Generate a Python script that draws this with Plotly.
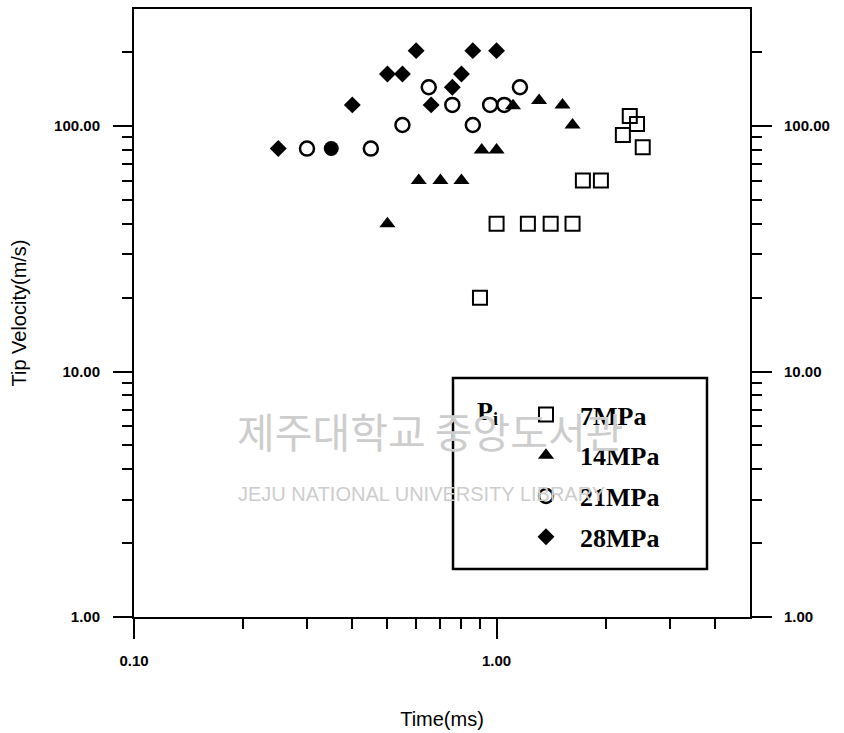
import plotly.graph_objects as go

# ---- data (Time in ms, Tip velocity in m/s) ----
t_7 = [0.90, 1.00, 1.22, 1.41, 1.62, 1.73, 1.94, 2.23, 2.33, 2.44, 2.53]
v_7 = [20, 40, 40, 40, 40, 60, 60, 92, 110, 102, 82]

t_14 = [0.50, 0.61, 0.70, 0.80, 0.91, 1.00, 1.11, 1.31, 1.52, 1.62]
v_14 = [40, 60, 60, 60, 80, 80, 121, 127, 122, 101]

t_21 = [0.30, 0.45, 0.55, 0.65, 0.755, 0.86, 0.96, 1.05, 1.16]
v_21 = [81, 81, 101, 144, 122, 101, 122, 122, 144]

t_28 = [0.25, 0.40, 0.50, 0.55, 0.60, 0.66, 0.755, 0.80, 0.86, 1.00]
v_28 = [81, 122, 163, 163, 203, 122, 144, 163, 203, 203]

t_dot = [0.35]
v_dot = [81]

x_major = [0.1, 1.0]
x_major_text = ["0.10", "1.00"]
x_minor = [0.2, 0.3, 0.4, 0.5, 0.6, 0.7, 0.8, 0.9, 2, 3, 4]
y_major = [1, 10, 100]
y_major_text = ["1.00", "10.00", "100.00"]
y_minor = [2, 3, 4, 5, 6, 7, 8, 9, 20, 30, 40, 50, 60, 70, 80, 90, 200]

fig = go.Figure()

fig.add_trace(go.Scatter(x=t_7, y=v_7, mode="markers", name="7MPa", legendgroup="a",
                         marker=dict(symbol="square-open", size=14, color="black",
                                     line=dict(width=2, color="black"))))
fig.add_trace(go.Scatter(x=t_14, y=v_14, mode="markers", name="14MPa", legendgroup="b",
                         marker=dict(symbol="triangle-up", size=14, color="black")))
fig.add_trace(go.Scatter(x=t_21, y=v_21, mode="markers", name="21MPa", legendgroup="c",
                         marker=dict(symbol="circle-open", size=14, color="black",
                                     line=dict(width=2.5, color="black"))))
fig.add_trace(go.Scatter(x=t_28, y=v_28, mode="markers", name="28MPa", legendgroup="d",
                         marker=dict(symbol="diamond", size=13, color="black")))
fig.add_trace(go.Scatter(x=t_dot, y=v_dot, mode="markers", showlegend=False,
                         marker=dict(symbol="circle", size=15, color="black")))
# carrier for right axis
fig.add_trace(go.Scatter(x=[None], y=[None], yaxis="y2", showlegend=False, hoverinfo="skip"))

axis_font = dict(family="Liberation Sans", size=15, color="black", weight="bold")

fig.update_layout(
    width=844, height=733,
    margin=dict(l=134, r=94, t=9, b=116, autoexpand=False),
    plot_bgcolor="white", paper_bgcolor="white",
    xaxis=dict(type="log", range=[-1, 0.69897], tickmode="array", automargin=False,
               tickvals=x_major, ticktext=x_major_text, ticks="outside",
               ticklen=20, tickwidth=2, tickcolor="black",
               showline=True, linewidth=2, linecolor="black", mirror=True,
               showgrid=False, zeroline=False, tickfont=axis_font,
               ticklabelstandoff=9,
               minor=dict(tickmode="array", tickvals=x_minor, ticks="outside",
                          ticklen=10, tickwidth=2, tickcolor="black", showgrid=False),
               title=dict(text="Time(ms)", standoff=44,
                          font=dict(family="Liberation Sans", size=20, color="black"))),
    yaxis=dict(type="log", range=[0, 2.4771], tickmode="array", automargin=False,
               tickvals=y_major, ticktext=y_major_text, ticks="outside",
               ticklen=19, tickwidth=2, tickcolor="black",
               showline=True, linewidth=2, linecolor="black",
               showgrid=False, zeroline=False, tickfont=axis_font,
               ticklabelstandoff=10,
               minor=dict(tickmode="array", tickvals=y_minor, ticks="outside",
                          ticklen=10, tickwidth=2, tickcolor="black", showgrid=False),
               title=dict(text="Tip Velocity(m/s)", standoff=22,
                          font=dict(family="Liberation Sans", size=20, color="black"))),
    yaxis2=dict(type="log", range=[0, 2.4771], overlaying="y", side="right", automargin=False,
                tickmode="array", tickvals=y_major, ticktext=y_major_text,
                ticks="outside", ticklen=20, tickwidth=2, tickcolor="black",
                showline=True, linewidth=2, linecolor="black",
                showgrid=False, zeroline=False, tickfont=axis_font,
                ticklabelstandoff=9,
                minor=dict(tickmode="array", tickvals=y_minor, ticks="outside",
                           ticklen=10, tickwidth=2, tickcolor="black", showgrid=False)),
    legend=dict(x=(512 - 134) / 616, y=(617 - 391) / 608, xanchor="left", yanchor="top",
                bgcolor="rgba(0,0,0,0)", borderwidth=0, itemwidth=58,
                font=dict(family="Liberation Serif", size=26, color="black", weight="bold"),
                tracegroupgap=4, itemsizing="trace"),
    showlegend=True,
)

# legend frame
fig.add_shape(type="rect", xref="paper", yref="paper",
              x0=(453 - 134) / 616, x1=(707 - 134) / 616,
              y0=(617 - 569) / 608, y1=(617 - 378) / 608,
              line=dict(color="black", width=2.5), fillcolor="rgba(0,0,0,0)")

fig.add_annotation(text="P<sub>i</sub>", xref="paper", yref="paper",
                   x=(487 - 134) / 616, y=(617 - 413) / 608, showarrow=False,
                   font=dict(family="Liberation Serif", size=26, color="black", weight="bold"))

# scan watermark
fig.add_annotation(text="제주대학교 중앙도서관", xref="paper", yref="paper",
                   x=(430 - 134) / 616, y=(617 - 462) / 608, showarrow=False,
                   font=dict(family="Noto Sans CJK KR", size=41, color="#cdcdcd"))
fig.add_annotation(text="JEJU NATIONAL UNIVERSITY LIBRARY", xref="paper", yref="paper",
                   x=(421 - 134) / 616, y=(617 - 507) / 608, showarrow=False,
                   font=dict(family="Liberation Sans", size=20, color="#cdcdcd"))

fig.write_html("out.html")
